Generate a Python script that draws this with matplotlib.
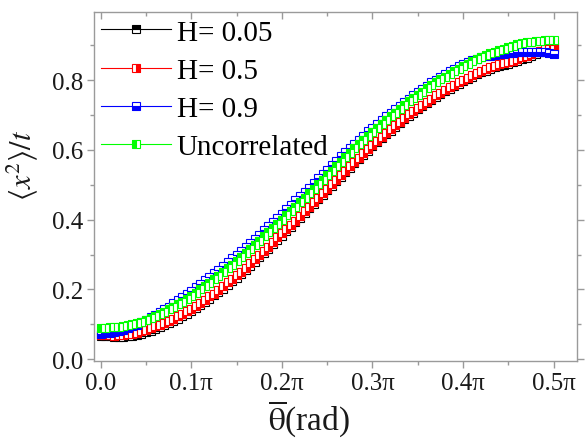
import numpy as np
import matplotlib
matplotlib.use('Agg')
import matplotlib.pyplot as plt
from matplotlib.lines import TICKDOWN

plt.rcParams['font.family'] = ['Liberation Serif', 'DejaVu Serif']
plt.rcParams['mathtext.fontset'] = 'stix'

# theta in units of pi
theta_pi = [0.000, 0.005, 0.010, 0.015, 0.020, 0.025, 0.030, 0.035, 0.040, 0.045,
            0.050, 0.055, 0.060, 0.065, 0.070, 0.075, 0.080, 0.085, 0.090, 0.095,
            0.100, 0.105, 0.110, 0.115, 0.120, 0.125, 0.130, 0.135, 0.140, 0.145,
            0.150, 0.155, 0.160, 0.165, 0.170, 0.175, 0.180, 0.185, 0.190, 0.195,
            0.200, 0.205, 0.210, 0.215, 0.220, 0.225, 0.230, 0.235, 0.240, 0.245,
            0.250, 0.255, 0.260, 0.265, 0.270, 0.275, 0.280, 0.285, 0.290, 0.295,
            0.300, 0.305, 0.310, 0.315, 0.320, 0.325, 0.330, 0.335, 0.340, 0.345,
            0.350, 0.355, 0.360, 0.365, 0.370, 0.375, 0.380, 0.385, 0.390, 0.395,
            0.400, 0.405, 0.410, 0.415, 0.420, 0.425, 0.430, 0.435, 0.440, 0.445,
            0.450, 0.455, 0.460, 0.465, 0.470, 0.475, 0.480, 0.485, 0.490, 0.495,
            0.500]

h005 = [0.068, 0.067, 0.066, 0.065, 0.064, 0.065, 0.066, 0.068, 0.070, 0.073,
        0.077, 0.082, 0.087, 0.092, 0.098, 0.104, 0.110, 0.116, 0.123, 0.131,
        0.139, 0.147, 0.155, 0.164, 0.173, 0.183, 0.193, 0.202, 0.212, 0.223,
        0.234, 0.245, 0.257, 0.268, 0.280, 0.292, 0.305, 0.317, 0.330, 0.342,
        0.354, 0.367, 0.380, 0.392, 0.405, 0.419, 0.432, 0.445, 0.458, 0.471,
        0.484, 0.497, 0.510, 0.523, 0.536, 0.548, 0.561, 0.573, 0.586, 0.598,
        0.610, 0.622, 0.634, 0.644, 0.655, 0.666, 0.677, 0.688, 0.698, 0.707,
        0.716, 0.725, 0.734, 0.743, 0.752, 0.760, 0.768, 0.775, 0.782, 0.789,
        0.796, 0.803, 0.810, 0.816, 0.822, 0.827, 0.832, 0.836, 0.840, 0.843,
        0.847, 0.851, 0.855, 0.859, 0.864, 0.869, 0.874, 0.880, 0.886, 0.891,
        0.895]

h05 = [0.070, 0.070, 0.069, 0.068, 0.069, 0.070, 0.071, 0.073, 0.076, 0.080,
       0.084, 0.089, 0.094, 0.099, 0.104, 0.110, 0.116, 0.123, 0.130, 0.137,
       0.145, 0.153, 0.162, 0.171, 0.180, 0.188, 0.198, 0.209, 0.220, 0.229,
       0.240, 0.251, 0.262, 0.275, 0.287, 0.298, 0.310, 0.323, 0.336, 0.349,
       0.361, 0.372, 0.384, 0.397, 0.410, 0.424, 0.437, 0.450, 0.463, 0.475,
       0.488, 0.502, 0.515, 0.527, 0.540, 0.553, 0.566, 0.578, 0.590, 0.602,
       0.614, 0.626, 0.638, 0.649, 0.660, 0.670, 0.680, 0.691, 0.702, 0.711,
       0.720, 0.729, 0.738, 0.747, 0.756, 0.764, 0.772, 0.779, 0.786, 0.793,
       0.800, 0.807, 0.814, 0.820, 0.825, 0.831, 0.836, 0.841, 0.846, 0.850,
       0.853, 0.856, 0.860, 0.865, 0.870, 0.875, 0.880, 0.884, 0.888, 0.889,
       0.890]

h09 = [0.073, 0.074, 0.076, 0.078, 0.081, 0.085, 0.089, 0.094, 0.099, 0.106,
       0.113, 0.120, 0.128, 0.135, 0.143, 0.151, 0.160, 0.169, 0.178, 0.187,
       0.197, 0.206, 0.216, 0.226, 0.236, 0.246, 0.256, 0.267, 0.278, 0.289,
       0.300, 0.311, 0.322, 0.333, 0.345, 0.357, 0.369, 0.381, 0.393, 0.405,
       0.417, 0.430, 0.442, 0.455, 0.467, 0.480, 0.492, 0.505, 0.518, 0.531,
       0.543, 0.556, 0.568, 0.581, 0.593, 0.605, 0.617, 0.629, 0.641, 0.653,
       0.664, 0.675, 0.686, 0.697, 0.707, 0.717, 0.727, 0.737, 0.747, 0.757,
       0.766, 0.775, 0.784, 0.793, 0.801, 0.810, 0.818, 0.826, 0.833, 0.840,
       0.846, 0.852, 0.857, 0.861, 0.865, 0.868, 0.870, 0.872, 0.874, 0.876,
       0.877, 0.878, 0.879, 0.880, 0.881, 0.881, 0.880, 0.880, 0.879, 0.878,
       0.876]

uncorr = [0.090, 0.090, 0.091, 0.092, 0.093, 0.095, 0.097, 0.100, 0.103, 0.108,
          0.113, 0.118, 0.124, 0.130, 0.136, 0.143, 0.150, 0.157, 0.165, 0.173,
          0.182, 0.191, 0.200, 0.209, 0.219, 0.229, 0.239, 0.250, 0.261, 0.271,
          0.282, 0.293, 0.304, 0.316, 0.328, 0.340, 0.352, 0.364, 0.376, 0.388,
          0.400, 0.412, 0.425, 0.437, 0.450, 0.463, 0.476, 0.489, 0.502, 0.515,
          0.528, 0.540, 0.553, 0.566, 0.579, 0.591, 0.604, 0.616, 0.628, 0.640,
          0.652, 0.663, 0.675, 0.686, 0.697, 0.707, 0.718, 0.728, 0.739, 0.748,
          0.758, 0.767, 0.776, 0.785, 0.794, 0.802, 0.810, 0.817, 0.825, 0.832,
          0.840, 0.847, 0.854, 0.860, 0.866, 0.871, 0.877, 0.881, 0.886, 0.890,
          0.895, 0.898, 0.902, 0.905, 0.908, 0.910, 0.912, 0.913, 0.914, 0.914,
          0.915]

series = [
    ('H= 0.05', h005, '#000000', 'top'),
    ('H= 0.5', h05, '#ff0000', 'right'),
    ('H= 0.9', h09, '#0000ff', 'bottom'),
    ('Uncorrelated', uncorr, '#00ff00', 'left'),
]

xtick_pi = [0.0, 0.1, 0.2, 0.3, 0.4, 0.5]
xtick_labels = ['0.0', '0.1\u03c0', '0.2\u03c0', '0.3\u03c0', '0.4\u03c0', '0.5\u03c0']
ytick_vals = [0.0, 0.2, 0.4, 0.6, 0.8]

theta = np.array(theta_pi) * np.pi

fig = plt.figure(figsize=(5.86, 4.39), dpi=100)
ax = fig.add_axes([0.1604, 0.1754, 0.8242, 0.795])

for label, vals, col, fs in series:
    ax.plot(theta, vals, color=col, lw=0.8, marker='s', markersize=5.4,
            fillstyle=fs, markerfacecolor=col, markerfacecoloralt='white',
            markeredgecolor=col, markeredgewidth=0.8, label=label)

ax.set_xlim(-0.0074 * np.pi, 0.5257 * np.pi)
ax.set_ylim(-0.005, 0.995)

ax.set_xticks(np.array(xtick_pi) * np.pi, xtick_labels)
ax.set_xticks(np.arange(0, 0.55, 0.05) * np.pi, minor=True)
ax.set_yticks(ytick_vals, ['%.1f' % v for v in ytick_vals])
ax.set_yticks(np.arange(0, 1.0, 0.1), minor=True)

grey = '#9a9a9a'
for s in ax.spines.values():
    s.set_color(grey)
    s.set_linewidth(1.0)

ax.tick_params(which='both', colors=grey, labelcolor='#1a1a1a', labelsize=18)
ax.tick_params(which='major', length=5, width=1.0, pad=3)
ax.tick_params(which='minor', length=3, width=1.0)
ax.tick_params(axis='x', which='both', top=True, direction='out')
ax.tick_params(axis='y', which='both', right=True, direction='out')
# Origin style: top ticks point into the frame, right ones outwards
for t in ax.xaxis.get_major_ticks() + ax.xaxis.get_minor_ticks():
    t.tick2line.set_marker(TICKDOWN)

ax.set_xlabel(r'$\overline{\mathrm{\theta}}$(rad)', fontsize=24, color='#1a1a1a')
ax.xaxis.set_label_coords(0.445, -0.105)
ax.set_ylabel(r'$\langle x^2\rangle/t$', fontsize=22, color='#1a1a1a')
ax.yaxis.set_label_coords(-0.112, 0.565)

ax.legend(loc='upper left', bbox_to_anchor=(0, 1), frameon=False, fontsize=21,
          handlelength=2.4, handletextpad=0.18, labelspacing=0.4,
          borderpad=0.2, borderaxespad=0.05, numpoints=1)

fig.savefig('out.png', dpi=100)
